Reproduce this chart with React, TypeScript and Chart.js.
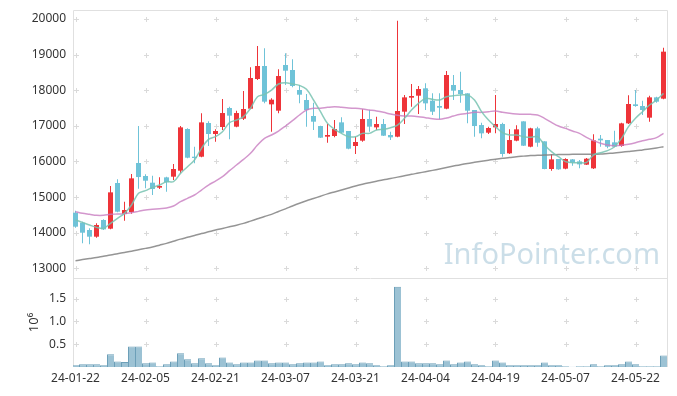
import React, { useEffect, useRef } from 'react';
import { Chart, registerables } from 'chart.js';
Chart.register(...registerables);

const dates = [
  '24-01-22','24-01-23','24-01-24','24-01-25','24-01-26','24-01-29','24-01-30','24-01-31','24-02-01','24-02-02',
  '24-02-05','24-02-06','24-02-07','24-02-08','24-02-13','24-02-14','24-02-15','24-02-16','24-02-19','24-02-20',
  '24-02-21','24-02-22','24-02-23','24-02-26','24-02-27','24-02-28','24-02-29','24-03-04','24-03-05','24-03-06',
  '24-03-07','24-03-08','24-03-11','24-03-12','24-03-13','24-03-14','24-03-15','24-03-18','24-03-19','24-03-20',
  '24-03-21','24-03-22','24-03-25','24-03-26','24-03-27','24-03-28','24-03-29','24-04-01','24-04-02','24-04-03',
  '24-04-04','24-04-05','24-04-08','24-04-09','24-04-11','24-04-12','24-04-15','24-04-16','24-04-17','24-04-18',
  '24-04-19','24-04-22','24-04-23','24-04-24','24-04-25','24-04-26','24-04-29','24-04-30','24-05-02','24-05-03',
  '24-05-07','24-05-08','24-05-09','24-05-10','24-05-13','24-05-14','24-05-16','24-05-17','24-05-20','24-05-21',
  '24-05-22','24-05-23','24-05-24','24-05-27','24-05-28',
];

const openP = [
  14562,14281,14075,13888,14356,14113,15395,14524,14581,15957,
  15592,15404,15264,15554,15573,15741,16911,16134,16134,17080,
  16771,16967,17501,16977,17201,17482,18315,18680,17604,17426,
  18708,18568,18006,17726,17276,16995,16696,16715,17098,16855,
  16434,16584,17192,16958,17052,16743,16696,17398,17791,17847,
  18053,17707,17557,17482,18147,18006,17913,17445,17023,16808,
  16958,17052,16228,16584,17126,16415,16930,16565,15788,16069,
  15798,16059,16003,15910,15807,16640,16602,16537,16434,17070,
  17604,17557,17230,17800,17763,
];
const highP = [
  14618,14309,14122,14262,14375,15311,15498,14871,15648,16995,
  15638,15601,15554,15573,15928,16995,16930,16415,17351,17126,
  16902,17754,17538,17426,17978,18643,19242,19176,17772,18587,
  19036,18867,18147,17894,17651,17000,17052,17164,17239,16855,
  16696,17463,17445,17258,17192,16836,19953,17866,18175,18119,
  18194,17913,17913,18540,18428,18521,17913,17445,17089,16977,
  17866,17089,16902,17014,17126,16949,16977,16565,16200,16069,
  16087,16069,16040,16097,16761,16743,16602,16864,17089,17857,
  18006,17707,17847,17819,19195,
];
const lowP = [
  14140,13701,13673,13860,14075,14094,14572,14337,14534,15236,
  15245,15058,15226,15152,15479,15666,16087,15947,16116,16434,
  16556,16883,16621,16958,17164,17463,18287,17632,16836,17351,
  18147,18081,17632,16977,16883,16659,16527,16678,16789,16340,
  16209,16556,16836,16883,16715,16602,16677,17052,17538,17332,
  17445,17304,17183,17463,17726,17651,17070,16696,16649,16771,
  16789,16134,16209,16565,16434,16396,16415,15779,15741,15770,
  15779,15882,15807,15901,15788,16415,16368,16396,16415,17052,
  17538,17304,17117,17651,17744,
];
const closeP = [
  14169,14000,13888,14216,14094,15133,14590,14637,15526,15563,
  15460,15226,15311,15414,15788,16958,16106,16097,17098,16771,
  16855,17360,17286,17360,17473,18343,18680,17679,17735,18399,
  18549,18119,17875,17445,17117,16668,16743,16911,16808,16359,
  16546,17192,16977,17052,16724,16677,17417,17800,17838,18034,
  17632,17398,17510,18428,17988,17894,17426,16995,16789,16939,
  17052,16209,16602,16902,16443,16930,16527,15788,16059,15779,
  16069,15966,15919,16078,16593,16593,16415,16415,17070,17613,
  17557,17445,17800,17679,19083,
];

const volume = [
  40000,60000,60000,60000,40000,280000,120000,110000,450000,450000,
  80000,100000,15000,60000,120000,300000,170000,80000,190000,80000,
  40000,210000,100000,60000,100000,100000,145000,145000,80000,100000,
  100000,60000,80000,100000,100000,120000,40000,60000,60000,80000,
  60000,100000,80000,40000,15000,40000,1760000,120000,120000,80000,
  80000,80000,60000,145000,60000,100000,120000,60000,40000,15000,
  145000,100000,40000,40000,40000,40000,40000,100000,40000,40000,
  15000,5000,15000,15000,60000,15000,40000,40000,60000,120000,
  60000,15000,15000,15000,250000,
];

const ma5 = [
  14356,14290,14215,14150,14122,14262,14403,14543,14777,15105,
  15180,15273,15339,15432,15432,15666,15853,16041,16368,16621,
  16700,16836,17089,17164,17258,17492,17819,17885,18006,18175,
  18212,18175,18137,18025,17726,17398,17070,16902,16789,16696,
  16696,16789,16789,16883,16902,16949,17023,17211,17445,17632,
  17772,17744,17726,17819,17847,17866,17866,17726,17398,17164,
  16977,16808,16743,16743,16696,16677,16696,16462,16275,16134,
  15994,15966,15966,15975,16181,16247,16303,16415,16649,16977,
  17211,17398,17585,17726,17913,
];
const ma20 = [
  14590,14543,14515,14487,14487,14515,14524,14534,14562,14599,
  14637,14655,14674,14693,14749,14871,14964,15058,15198,15339,
  15450,15573,15741,15900,16059,16228,16462,16649,16743,16855,
  16995,17145,17304,17445,17492,17492,17520,17538,17520,17501,
  17492,17473,17445,17417,17379,17332,17295,17276,17276,17258,
  17230,17201,17183,17220,17276,17323,17351,17379,17379,17398,
  17417,17379,17351,17332,17323,17323,17304,17211,17098,16995,
  16930,16855,16789,16677,16584,16509,16462,16443,16453,16481,
  16527,16584,16621,16668,16789,
];
const ma60 = [
  13214,13245,13275,13305,13340,13373,13410,13445,13480,13520,
  13560,13600,13650,13700,13760,13820,13870,13920,13975,14025,
  14075,14120,14165,14210,14262,14325,14390,14455,14515,14595,
  14670,14750,14825,14895,14960,15025,15090,15145,15200,15255,
  15310,15360,15404,15445,15485,15520,15560,15600,15640,15675,
  15713,15750,15790,15830,15870,15910,15945,15975,16005,16035,
  16065,16090,16110,16135,16150,16165,16172,16180,16188,16193,
  16197,16200,16200,16200,16202,16210,16225,16240,16260,16280,
  16300,16325,16350,16380,16415,
];

const xTickIdx = [0, 10, 20, 30, 40, 50, 60, 70, 80];
const priceTicks = [13000, 14000, 15000, 16000, 17000, 18000, 19000, 20000];
const volumeTicks = [500000, 1000000, 1500000];

const RED = '#ee3439';
const BLUE = '#6fc3d8';
const FONT = "'Noto Sans', sans-serif";

const noPad = (s: any) => {
  s.paddingTop = 0;
  s.paddingBottom = 0;
};

export default function App() {
  const ref = useRef<HTMLCanvasElement>(null);
  useEffect(() => {
    const canvas = ref.current!;
    const idx = dates.map((_, i) => i);
    const colors = idx.map((i) => (closeP[i] >= openP[i] ? RED : BLUE));

    const panelPlugin = {
      id: 'panelDecor',
      beforeDatasetsDraw(chart: any) {
        const c = chart.ctx;
        const x = chart.scales.x;
        const y = chart.scales.y;
        const yv = chart.scales.yv;
        c.save();
        c.font = `29px ${FONT}`;
        c.fillStyle = 'rgba(190,214,226,0.8)';
        c.textAlign = 'right';
        c.textBaseline = 'alphabetic';
        c.fillText('InfoPointer.com', x.right - 8, y.bottom - 14);
        c.strokeStyle = '#dadada';
        c.lineWidth = 1;
        const cross = (px: number, py: number) => {
          c.beginPath();
          c.moveTo(px - 2.5, py);
          c.lineTo(px + 2.5, py);
          c.moveTo(px, py - 2.5);
          c.lineTo(px, py + 2.5);
          c.stroke();
        };
        for (const xi of xTickIdx) {
          const px = Math.round(x.getPixelForValue(xi)) + 0.5;
          for (const t of priceTicks) cross(px, Math.round(y.getPixelForValue(t)) + 0.5);
          for (const t of volumeTicks) cross(px, Math.round(yv.getPixelForValue(t)) + 0.5);
        }
        c.strokeStyle = '#e0e0e0';
        const L = Math.round(x.left) + 0.5;
        const R = Math.round(x.right) - 0.5;
        const T = Math.round(y.top) + 0.5;
        const M = Math.round(y.bottom) + 0.5;
        const B = Math.round(yv.bottom);
        c.beginPath();
        c.moveTo(L, B);
        c.lineTo(L, T);
        c.lineTo(R, T);
        c.lineTo(R, B);
        c.moveTo(L, M);
        c.lineTo(R, M);
        c.stroke();
        c.restore();
      },
    };

    const chart = new Chart(canvas, {
      type: 'bar',
      data: {
        datasets: [
          {
            type: 'line', label: 'MA5',
            data: idx.map((i) => ({ x: i, y: ma5[i] })),
            borderColor: 'rgba(120,195,178,0.85)', borderWidth: 1.5,
            pointRadius: 0, tension: 0.35, yAxisID: 'y', order: 0,
          },
          {
            type: 'line', label: 'MA20',
            data: idx.map((i) => ({ x: i, y: ma20[i] })),
            borderColor: 'rgba(200,125,192,0.8)', borderWidth: 1.5,
            pointRadius: 0, tension: 0.35, yAxisID: 'y', order: 0,
          },
          {
            type: 'line', label: 'MA60',
            data: idx.map((i) => ({ x: i, y: ma60[i] })),
            borderColor: 'rgba(130,130,130,0.85)', borderWidth: 1.5,
            pointRadius: 0, tension: 0.35, yAxisID: 'y', order: 0,
          },
          {
            type: 'bar', label: 'body',
            data: idx.map((i) => ({ x: i, y: [openP[i], closeP[i]] })),
            backgroundColor: colors, grouped: false, inflateAmount: 0,
            barPercentage: 5 / 7, categoryPercentage: 1, maxBarThickness: 5,
            minBarLength: 1, yAxisID: 'y', order: 1,
          },
          {
            type: 'bar', label: 'wick',
            data: idx.map((i) => ({ x: i, y: [lowP[i], highP[i]] })),
            backgroundColor: colors, grouped: false, inflateAmount: 0,
            barPercentage: 1 / 7, categoryPercentage: 1, maxBarThickness: 1,
            yAxisID: 'y', order: 2,
          },
          {
            type: 'bar', label: 'volume',
            data: idx.map((i) => ({ x: i, y: volume[i] })),
            backgroundColor: '#9cc2d4', borderColor: '#6c9fb8',
            borderWidth: { top: 1, left: 1, right: 0, bottom: 0 },
            borderSkipped: false, inflateAmount: 0,
            grouped: false, barPercentage: 1, categoryPercentage: 1,
            yAxisID: 'yv', order: 3,
          },
        ],
      } as any,
      options: {
        animation: false,
        responsive: false,
        maintainAspectRatio: false,
        layout: { padding: { top: 2, right: 1, left: 0, bottom: 0 } },
        plugins: { legend: { display: false }, tooltip: { enabled: false } },
        scales: {
          x: {
            type: 'linear', min: -2.5 / 7, max: -2.5 / 7 + 85, offset: false,
            grid: { display: false, drawTicks: false }, border: { display: false },
            afterBuildTicks: (s: any) => { s.ticks = xTickIdx.map((v) => ({ value: v })); },
            afterFit: (s: any) => { s.height = 21; s.paddingLeft = 0; s.paddingRight = 0; },
            ticks: {
              padding: 4, autoSkip: false, maxRotation: 0, color: '#333',
              font: { family: FONT, size: 12 },
              callback: (v: any) => dates[v],
            },
          },
          yv: {
            type: 'linear', position: 'left', stack: 'main', stackWeight: 89,
            min: 0, max: 1950000,
            grid: { display: false, drawTicks: false }, border: { display: false },
            afterBuildTicks: (s: any) => { s.ticks = volumeTicks.map((v) => ({ value: v })); },
            afterFit: (s: any) => { s.width = 65; noPad(s); },
            ticks: { padding: 7, color: '#333', font: { family: FONT, size: 12 }, callback: (v: any) => (v / 1e6).toFixed(1) },
            title: { display: true, text: '10⁶', color: '#333', font: { family: FONT, size: 13 }, padding: { top: 18, bottom: 0 } },
          },
          y: {
            type: 'linear', position: 'left', stack: 'main', stackWeight: 268,
            min: 12728, max: 20253, beginAtZero: false,
            grid: { display: false, drawTicks: false }, border: { display: false },
            afterBuildTicks: (s: any) => { s.ticks = priceTicks.map((v) => ({ value: v })); },
            afterFit: (s: any) => { s.width = 65; noPad(s); },
            ticks: { padding: 7, color: '#333', font: { family: FONT, size: 12 }, callback: (v: any) => String(v) },
          },
        },
      } as any,
      plugins: [panelPlugin],
    });
    return () => chart.destroy();
  }, []);

  return (
    <div style={{ width: 661, height: 380 }}>
      <canvas ref={ref} width={661} height={380} style={{ display: 'block' }} />
    </div>
  );
}
